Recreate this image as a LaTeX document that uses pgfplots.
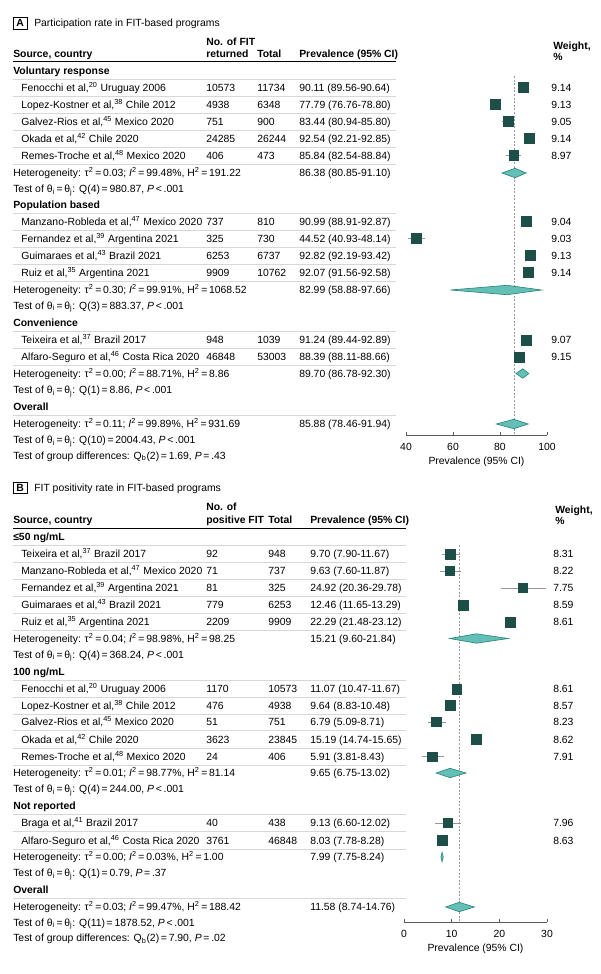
\documentclass[border=0pt]{standalone}
\usepackage{pgfplots}
\pgfplotsset{compat=1.18}
\usepackage{pgfplotstable}
\usepackage{fontspec}
\setmainfont{Liberation Sans}
\definecolor{sq}{RGB}{30,78,72}
\definecolor{dfill}{RGB}{100,192,182}
\definecolor{dline}{RGB}{45,135,125}
\definecolor{sepc}{RGB}{215,215,215}
\definecolor{cic}{RGB}{150,150,150}
\newcommand{\tsz}{\fontsize{7.8pt}{9pt}\selectfont}

% panel A data: y(px, negative), estimate, lower, upper, weight
\pgfplotstableread{
y est lo hi w
-87.5 90.11 89.56 90.64 9.14
-104.5 77.79 76.76 78.80 9.13
-121.5 83.44 80.94 85.80 9.05
-138.5 92.54 92.21 92.85 9.14
-155.5 85.84 82.54 88.84 8.97
-221.5 90.99 88.91 92.87 9.04
-238.5 44.52 40.93 48.14 9.03
-255.5 92.82 92.19 93.42 9.13
-272.5 92.07 91.56 92.58 9.14
-340 91.24 89.44 92.89 9.07
-357 88.39 88.11 88.66 9.15
}\tabA

% panel B data
\pgfplotstableread{
y est lo hi w
-554 9.70 7.90 11.67 8.31
-571 9.63 7.60 11.87 8.22
-588 24.92 20.36 29.78 7.75
-605 12.46 11.65 13.29 8.59
-622 22.29 21.48 23.12 8.61
-689 11.07 10.47 11.67 8.61
-705.5 9.64 8.83 10.48 8.57
-722 6.79 5.09 8.71 8.23
-739.5 15.19 14.74 15.65 8.62
-756.5 5.91 3.81 8.43 7.91
-823 9.13 6.60 12.02 7.96
-840.5 8.03 7.78 8.28 8.63
}\tabB

\tikzset{tx/.style={anchor=base west, inner sep=0pt, font=\tsz},
         bx/.style={anchor=base west, inner sep=0pt, font=\tsz\bfseries}}

\newcommand{\grp}[2]{\node[bx] at (13,{#1+3.6}) {#2};
  \draw[sepc,line width=0.45pt] (13,{#1+8.5}) -- (\cE,{#1+8.5});}
\newcommand{\studyrow}[6]{%
  \node[tx] at (21,{#1+3.6}) {#2};
  \node[tx] at (\cN,{#1+3.6}) {#3};
  \node[tx] at (\cT,{#1+3.6}) {#4};
  \node[tx] at (\cP,{#1+3.6}) {#5};
  \node[tx] at (\cW,{#1+3.6}) {#6};
  \draw[sepc,line width=0.45pt] (13,{#1+8.5}) -- (\cE,{#1+8.5});}
\newcommand{\hetrow}[5]{%
  \node[tx] at (13,{#1+3.6}) {Heterogeneity: τ\textsuperscript{2}\,=\,#2; \textit{I}\textsuperscript{2}\,=\,#3\%, H\textsuperscript{2}\,=\,#4};
  \node[tx] at (\cP,{#1+3.6}) {#5};}
\newcommand{\testrow}[3]{%
  \node[tx] at (13,{#1+3.6}) {Test of θ\textsubscript{i}\,=\,θ\textsubscript{j}: Q(#2)\,=\,#3};}

\pgfplotsset{forest/.style={
  scale only axis, clip=false,
  axis x line=bottom, axis y line=none,
  axis line style={-, black!65, line width=0.5pt},
  tick align=inside, major tick length=2.5pt,
  tick style={black!65, line width=0.5pt},
  /pgf/number format/assume math mode=true,
  x tick label style={font=\tsz, yshift=-2.3pt},
  xlabel={Prevalence (95\% CI)},
  xlabel style={font=\tsz, at={(axis description cs:0.5,0)}, anchor=center, yshift=-20.2pt},
}}

\begin{document}
\begin{tikzpicture}
\begin{scope}[x=0.75pt,y=-0.75pt]
\path[use as bounding box] (0,0) rectangle (600,974);

% ================= PANEL A =================
\def\cN{206}\def\cT{257}\def\cP{299}\def\cW{551}\def\cE{396}
\draw[line width=0.5pt] (13,17.5) rectangle (27.5,29);
\node[font=\tsz\bfseries, inner sep=0pt] at (20.25,23.25) {A};
\node[tx] at (34,{23+3.6}) {Participation rate in FIT-based programs};
\node[bx] at (\cN,{42+3.6}) {No. of FIT};
\node[bx] at (\cN,{53.5+3.6}) {returned};
\node[bx] at (13,{53.5+3.6}) {Source, country};
\node[bx] at (\cT,{53.5+3.6}) {Total};
\node[bx] at (\cP,{53.5+3.6}) {Prevalence (95\% CI)};
\node[bx] at (553,{46+3.6}) {Weight,};
\node[bx] at (553,{57+3.6}) {\%};
\draw[black,line width=0.6pt] (13,61.5) -- (\cE,61.5);

\grp{71}{Voluntary response}
\studyrow{87.5}{Fenocchi et al,\textsuperscript{20} Uruguay 2006}{10573}{11734}{90.11 (89.56-90.64)}{9.14}
\studyrow{104.5}{Lopez-Kostner et al,\textsuperscript{38} Chile 2012}{4938}{6348}{77.79 (76.76-78.80)}{9.13}
\studyrow{121.5}{Galvez-Rios et al,\textsuperscript{45} Mexico 2020}{751}{900}{83.44 (80.94-85.80)}{9.05}
\studyrow{138.5}{Okada et al,\textsuperscript{42} Chile 2020}{24285}{26244}{92.54 (92.21-92.85)}{9.14}
\studyrow{155.5}{Remes-Troche et al,\textsuperscript{48} Mexico 2020}{406}{473}{85.84 (82.54-88.84)}{8.97}
\hetrow{173}{0.03}{99.48}{191.22}{86.38 (80.85-91.10)}
\testrow{189}{4}{980.87, \textit{P}\,<\,.001}
\grp{205}{Population based}
\studyrow{221.5}{Manzano-Robleda et al,\textsuperscript{47} Mexico 2020}{737}{810}{90.99 (88.91-92.87)}{9.04}
\studyrow{238.5}{Fernandez et al,\textsuperscript{39} Argentina 2021}{325}{730}{44.52 (40.93-48.14)}{9.03}
\studyrow{255.5}{Guimaraes et al,\textsuperscript{43} Brazil 2021}{6253}{6737}{92.82 (92.19-93.42)}{9.13}
\studyrow{272.5}{Ruiz et al,\textsuperscript{35} Argentina 2021}{9909}{10762}{92.07 (91.56-92.58)}{9.14}
\hetrow{290}{0.30}{99.91}{1068.52}{82.99 (58.88-97.66)}
\testrow{305.5}{3}{883.37, \textit{P}\,<\,.001}
\grp{323}{Convenience}
\studyrow{340}{Teixeira et al,\textsuperscript{37} Brazil 2017}{948}{1039}{91.24 (89.44-92.89)}{9.07}
\studyrow{357}{Alfaro-Seguro et al,\textsuperscript{46} Costa Rica 2020}{46848}{53003}{88.39 (88.11-88.66)}{9.15}
\hetrow{373.5}{0.00}{88.71}{8.86}{89.70 (86.78-92.30)}
\testrow{390}{1}{8.86, \textit{P}\,<\,.001}
\grp{407}{Overall}
\hetrow{424}{0.11}{99.89}{931.69}{85.88 (78.46-91.94)}
\testrow{440}{10}{2004.43, \textit{P}\,<\,.001}
\node[tx] at (13,{455.5+3.6}) {Test of group differences: Q\textsubscript{b}(2)\,=\,1.69, \textit{P}\,=\,.43};

% ================= PANEL B =================
\def\cN{206}\def\cT{268}\def\cP{310}\def\cW{553}\def\cE{406}
\draw[line width=0.5pt] (13,482) rectangle (27.5,493.5);
\node[font=\tsz\bfseries, inner sep=0pt] at (20.25,487.75) {B};
\node[tx] at (34,{488+3.6}) {FIT positivity rate in FIT-based programs};
\node[bx] at (\cN,{507+3.6}) {No. of};
\node[bx] at (\cN,{520+3.6}) {positive FIT};
\node[bx] at (13,{520+3.6}) {Source, country};
\node[bx] at (\cT,{520+3.6}) {Total};
\node[bx] at (\cP,{520+3.6}) {Prevalence (95\% CI)};
\node[bx] at (555,{510+3.6}) {Weight,};
\node[bx] at (555,{521+3.6}) {\%};
\draw[black,line width=0.6pt] (13,528) -- (\cE,528);

\grp{537}{≤50 ng/mL}
\studyrow{554}{Teixeira et al,\textsuperscript{37} Brazil 2017}{92}{948}{9.70 (7.90-11.67)}{8.31}
\studyrow{571}{Manzano-Robleda et al,\textsuperscript{47} Mexico 2020}{71}{737}{9.63 (7.60-11.87)}{8.22}
\studyrow{588}{Fernandez et al,\textsuperscript{39} Argentina 2021}{81}{325}{24.92 (20.36-29.78)}{7.75}
\studyrow{605}{Guimaraes et al,\textsuperscript{43} Brazil 2021}{779}{6253}{12.46 (11.65-13.29)}{8.59}
\studyrow{622}{Ruiz et al,\textsuperscript{35} Argentina 2021}{2209}{9909}{22.29 (21.48-23.12)}{8.61}
\hetrow{638.5}{0.04}{98.98}{98.25}{15.21 (9.60-21.84)}
\testrow{654.5}{4}{368.24, \textit{P}\,<\,.001}
\grp{672}{100 ng/mL}
\studyrow{689}{Fenocchi et al,\textsuperscript{20} Uruguay 2006}{1170}{10573}{11.07 (10.47-11.67)}{8.61}
\studyrow{705.5}{Lopez-Kostner et al,\textsuperscript{38} Chile 2012}{476}{4938}{9.64 (8.83-10.48)}{8.57}
\studyrow{722}{Galvez-Rios et al,\textsuperscript{45} Mexico 2020}{51}{751}{6.79 (5.09-8.71)}{8.23}
\studyrow{739.5}{Okada et al,\textsuperscript{42} Chile 2020}{3623}{23845}{15.19 (14.74-15.65)}{8.62}
\studyrow{756.5}{Remes-Troche et al,\textsuperscript{48} Mexico 2020}{24}{406}{5.91 (3.81-8.43)}{7.91}
\hetrow{773}{0.01}{98.77}{81.14}{9.65 (6.75-13.02)}
\testrow{789}{4}{244.00, \textit{P}\,<\,.001}
\grp{806}{Not reported}
\studyrow{823}{Braga et al,\textsuperscript{41} Brazil 2017}{40}{438}{9.13 (6.60-12.02)}{7.96}
\studyrow{840.5}{Alfaro-Seguro et al,\textsuperscript{46} Costa Rica 2020}{3761}{46848}{8.03 (7.78-8.28)}{8.63}
\hetrow{857}{0.00}{0.03}{1.00}{7.99 (7.75-8.24)}
\testrow{873}{1}{0.79, \textit{P}\,=\,.37}
\grp{890}{Overall}
\hetrow{907}{0.03}{99.47}{188.42}{11.58 (8.74-14.76)}
\testrow{922.5}{11}{1878.52, \textit{P}\,<\,.001}
\node[tx] at (13,{938+3.6}) {Test of group differences: Q\textsubscript{b}(2)\,=\,7.90, \textit{P}\,=\,.02};
\end{scope}

% ---------- Axis A ----------
\begin{axis}[forest,
  at={(304.5pt,-326.25pt)}, anchor=south west,
  width=105.75pt, height=273.75pt,
  xmin=40, xmax=100, ymin=-435, ymax=-70,
  xtick={40,60,80,100}]
\addplot[black!40, dash pattern=on 1.5pt off 1.2pt, line width=0.45pt] coordinates {(85.88,-76) (85.88,-435)};
\addplot[draw=none, mark=none, forget plot,
  error bars/.cd, x dir=both, x explicit, error mark=none,
  error bar style={draw=cic, solid, line width=0.55pt}]
  table[x=est, y=y, x error plus expr=\thisrow{hi}-\thisrow{est}, x error minus expr=\thisrow{est}-\thisrow{lo}] {\tabA};
\addplot[scatter, only marks, mark=square*,
  scatter/use mapped color={draw=sq, fill=sq},
  visualization depends on={sqrt(\thisrow{w}/9.14)*3.75 \as \msz},
  scatter/@pre marker code/.append style={/tikz/mark size=\msz, /tikz/line width=0.3pt}]
  table[x=est, y=y] {\tabA};
\addplot[fill=dfill, draw=dline, line width=0.5pt] coordinates {(80.85,-173) (86.38,-168.3) (91.10,-173) (86.38,-177.7)} -- cycle;
\addplot[fill=dfill, draw=dline, line width=0.5pt] coordinates {(58.88,-290) (82.99,-285.3) (97.66,-290) (82.99,-294.7)} -- cycle;
\addplot[fill=dfill, draw=dline, line width=0.5pt] coordinates {(86.78,-373.5) (89.70,-368.8) (92.30,-373.5) (89.70,-378.2)} -- cycle;
\addplot[fill=dfill, draw=dline, line width=0.5pt] coordinates {(78.46,-424) (85.88,-419.3) (91.94,-424) (85.88,-428.7)} -- cycle;
\end{axis}

% ---------- Axis B ----------
\begin{axis}[forest,
  at={(303pt,-691.5pt)}, anchor=south west,
  width=107.25pt, height=284.25pt,
  xmin=0, xmax=30, ymin=-922, ymax=-543,
  xtick={0,10,20,30}]
\addplot[black!40, dash pattern=on 1.5pt off 1.2pt, line width=0.45pt] coordinates {(11.58,-545) (11.58,-922)};
\addplot[draw=none, mark=none, forget plot,
  error bars/.cd, x dir=both, x explicit, error mark=none,
  error bar style={draw=cic, solid, line width=0.55pt}]
  table[x=est, y=y, x error plus expr=\thisrow{hi}-\thisrow{est}, x error minus expr=\thisrow{est}-\thisrow{lo}] {\tabB};
\addplot[scatter, only marks, mark=square*,
  scatter/use mapped color={draw=sq, fill=sq},
  visualization depends on={sqrt(\thisrow{w}/9.14)*3.75 \as \msz},
  scatter/@pre marker code/.append style={/tikz/mark size=\msz, /tikz/line width=0.3pt}]
  table[x=est, y=y] {\tabB};
\addplot[fill=dfill, draw=dline, line width=0.5pt] coordinates {(9.60,-638.5) (15.21,-633.8) (21.84,-638.5) (15.21,-643.2)} -- cycle;
\addplot[fill=dfill, draw=dline, line width=0.5pt] coordinates {(6.75,-773) (9.65,-768.3) (13.02,-773) (9.65,-777.7)} -- cycle;
\addplot[fill=dfill, draw=dline, line width=0.5pt] coordinates {(7.75,-857) (7.99,-852.3) (8.24,-857) (7.99,-861.7)} -- cycle;
\addplot[fill=dfill, draw=dline, line width=0.5pt] coordinates {(8.74,-907) (11.58,-902.3) (14.76,-907) (11.58,-911.7)} -- cycle;
\end{axis}
\end{tikzpicture}
\end{document}
